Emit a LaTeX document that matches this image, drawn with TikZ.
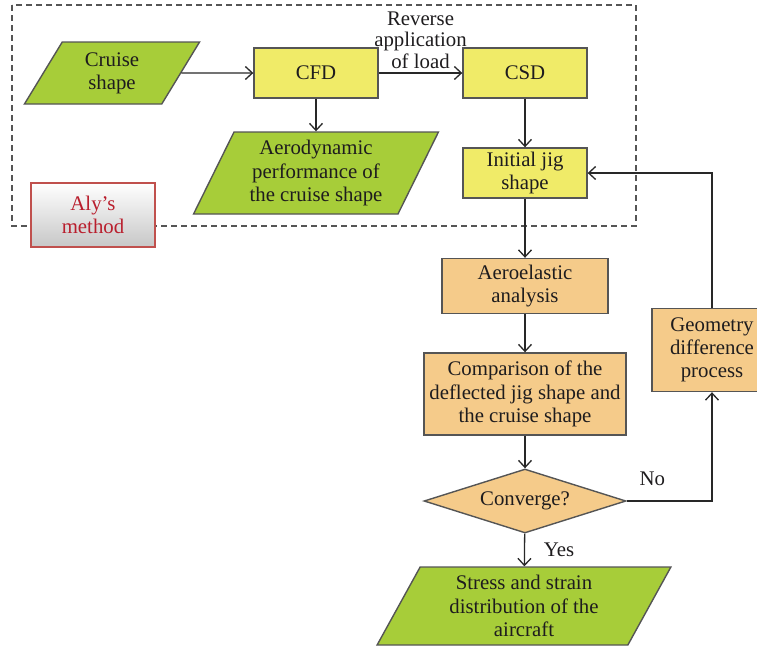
\documentclass[tikz,border=0pt]{standalone}
\usepackage{fontspec}
\setmainfont{Liberation Serif}
\usetikzlibrary{shapes.geometric,arrows.meta}

\definecolor{datagreen}{RGB}{167,205,57}
\definecolor{jigyellow}{RGB}{240,235,104}
\definecolor{looporange}{RGB}{245,203,138}
\definecolor{boxgray}{RGB}{85,85,85}
\definecolor{linegray}{RGB}{40,40,40}
\definecolor{textdark}{RGB}{30,28,30}
\definecolor{alyred}{RGB}{192,80,77}
\definecolor{alytext}{RGB}{185,30,45}

\begin{document}
\begin{tikzpicture}[
        x=0.5pt, y=-0.5pt,
        >={Straight Barb[length=3.5pt,width=6.5pt]},
        every node/.style={font=\fontsize{10.4}{11.6}\selectfont, text=textdark},
        flow/.style={->, draw=linegray, line width=0.65pt},
        procbox/.style={draw=boxgray, line width=0.7pt, rectangle, align=center, inner sep=1pt},
        toolbox/.style={procbox, fill=jigyellow, minimum width=62pt, minimum height=25pt},
        loopbox/.style={procbox, fill=looporange},
        databox/.style={trapezium, trapezium left angle=64, trapezium right angle=116,
            trapezium stretches=true, draw=boxgray, line width=0.7pt, fill=datagreen,
            align=center, inner sep=1pt},
    ]
        \clip (0,0) rectangle (757,650);

        % Frame of Aly's method
        \draw[boxgray, line width=0.6pt, dash pattern=on 3pt off 2pt] (12,5) rectangle (636,226);

        % Entities
        \node[databox, minimum width=88pt, minimum height=31pt] (cruise) at (112,73) {Cruise\\shape};
        \node[toolbox] (cfd) at (316,73) {CFD};
        \node[toolbox] (csd) at (525,73) {CSD};
        \node[databox, minimum width=122.5pt, minimum height=41pt] (aero) at (316,173)
            {Aerodynamic\\performance of\\the cruise shape};
        \node[toolbox] (jig) at (525,173) {Initial jig\\shape};
        \node[draw=alyred, line width=0.7pt, top color=white, bottom color=black!22,
            minimum width=62pt, minimum height=32pt, align=center, inner sep=1pt,
            text=alytext] (aly) at (93,215) {Aly's\\method};
        \node[loopbox, minimum width=83pt, minimum height=27.5pt] (elastic) at (525,286)
            {Aeroelastic\\analysis};
        \node[loopbox, minimum width=101pt, minimum height=41pt] (compare) at (525,394)
            {Comparison of the\\deflected jig shape and\\the cruise shape};
        \node[diamond, aspect=3.2, draw=boxgray, line width=0.7pt, fill=looporange,
            minimum width=101pt, minimum height=32pt, inner sep=0pt] (conv) at (525,501) {Converge?};
        \node[loopbox, minimum width=60pt, minimum height=41.5pt] (geom) at (712,350)
            {Geometry\\difference\\process};
        \node[databox, minimum width=147pt, minimum height=39pt] (stress) at (524,606)
            {Stress and strain\\distribution of the\\aircraft};

        % Cruise shape through the solvers
        \draw[flow] (cruise) -- (cfd);
        \draw[flow] (cfd) --
            node[above=1pt, align=center, inner sep=1pt, font=\fontsize{10.4}{10.6}\selectfont]
            {Reverse\\application\\of load}
            (csd);
        \draw[flow] (cfd) -- (aero);
        \draw[flow] (csd) -- (jig);

        % Aeroelastic loop
        \draw[flow] (jig) -- (elastic);
        \draw[flow] (elastic) -- (compare);
        \draw[flow] (compare) -- (conv);
        \draw[flow] (conv.east) -| node[pos=0.15, above=4pt] {No} (geom.south);
        \draw[flow] (geom.north) |- (jig.east);
        \draw[flow] (conv) -- node[right=6pt] {Yes} (stress);
    \end{tikzpicture}
\end{document}
